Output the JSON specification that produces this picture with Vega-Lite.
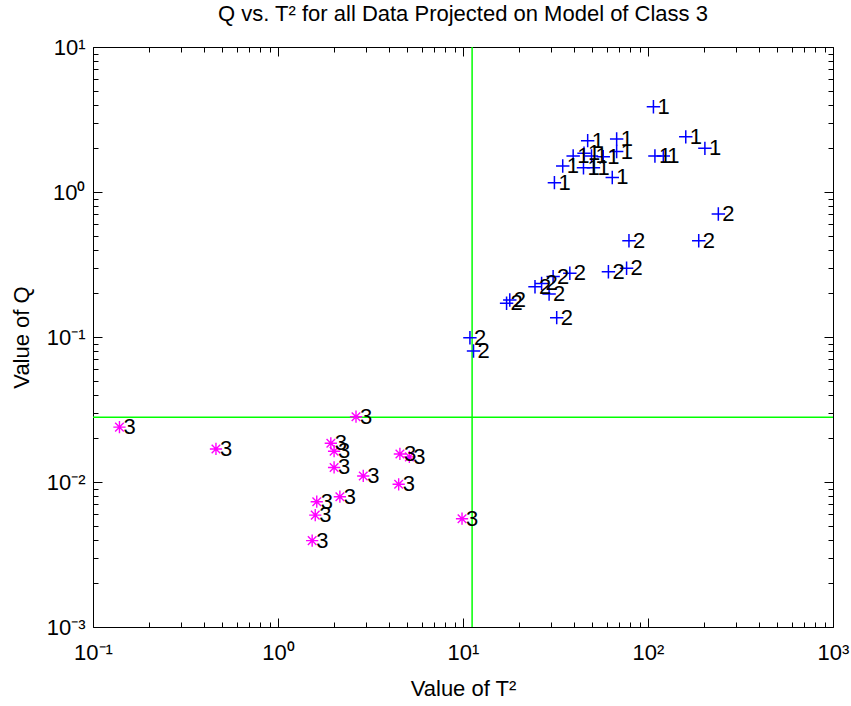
{
  "$schema": "https://vega.github.io/schema/vega-lite/v6.json",
  "width": 740,
  "height": 580,
  "autosize": {"type": "none"},
  "padding": {"left": 93, "top": 47, "right": 18, "bottom": 79},
  "background": "white",
  "title": {"text": "Q vs. T² for all Data Projected on Model of Class 3", "font": "Liberation Sans", "fontSize": 22, "fontWeight": "normal", "color": "black", "offset": 10, "anchor": "middle"},
  "config": {
    "view": {"stroke": "black", "strokeWidth": 1},
    "axis": {"domain": false, "grid": false, "labelFont": "Liberation Sans", "labelFontSize": 22, "labelColor": "black", "tickColor": "black", "tickWidth": 1, "titleFont": "Liberation Sans", "titleFontSize": 22, "titleFontWeight": "normal", "titleColor": "black", "labelFlush": false, "labelOverlap": false}
  },
  "datasets": {
    "pts": [
      {"t2": 107, "q": 3.87, "cls": "1"},
      {"t2": 47.2, "q": 2.26, "cls": "1"},
      {"t2": 67.7, "q": 2.32, "cls": "1"},
      {"t2": 160, "q": 2.40, "cls": "1"},
      {"t2": 203, "q": 2.00, "cls": "1"},
      {"t2": 109, "q": 1.77, "cls": "1"},
      {"t2": 121, "q": 1.77, "cls": "1"},
      {"t2": 39.4, "q": 1.77, "cls": "1"},
      {"t2": 45.1, "q": 1.85, "cls": "1"},
      {"t2": 49.5, "q": 1.77, "cls": "1"},
      {"t2": 57.3, "q": 1.75, "cls": "1"},
      {"t2": 67.7, "q": 1.90, "cls": "1"},
      {"t2": 34.6, "q": 1.51, "cls": "1"},
      {"t2": 44.8, "q": 1.47, "cls": "1"},
      {"t2": 50.7, "q": 1.47, "cls": "1"},
      {"t2": 31.2, "q": 1.16, "cls": "1"},
      {"t2": 64.1, "q": 1.26, "cls": "1"},
      {"t2": 10.9, "q": 0.0988, "cls": "2"},
      {"t2": 11.4, "q": 0.080, "cls": "2"},
      {"t2": 17.9, "q": 0.180, "cls": "2"},
      {"t2": 17.2, "q": 0.171, "cls": "2"},
      {"t2": 24.5, "q": 0.222, "cls": "2"},
      {"t2": 26.6, "q": 0.234, "cls": "2"},
      {"t2": 30.7, "q": 0.261, "cls": "2"},
      {"t2": 29.2, "q": 0.198, "cls": "2"},
      {"t2": 32.1, "q": 0.136, "cls": "2"},
      {"t2": 37.8, "q": 0.275, "cls": "2"},
      {"t2": 61.1, "q": 0.282, "cls": "2"},
      {"t2": 76.6, "q": 0.298, "cls": "2"},
      {"t2": 78.9, "q": 0.461, "cls": "2"},
      {"t2": 188, "q": 0.461, "cls": "2"},
      {"t2": 240, "q": 0.705, "cls": "2"},
      {"t2": 0.139, "q": 0.0239, "cls": "3"},
      {"t2": 0.462, "q": 0.0169, "cls": "3"},
      {"t2": 2.64, "q": 0.0282, "cls": "3"},
      {"t2": 1.93, "q": 0.0185, "cls": "3"},
      {"t2": 2.01, "q": 0.0163, "cls": "3"},
      {"t2": 2.01, "q": 0.0126, "cls": "3"},
      {"t2": 2.89, "q": 0.0110, "cls": "3"},
      {"t2": 4.56, "q": 0.0156, "cls": "3"},
      {"t2": 5.13, "q": 0.0149, "cls": "3"},
      {"t2": 4.49, "q": 0.00964, "cls": "3"},
      {"t2": 2.16, "q": 0.00792, "cls": "3"},
      {"t2": 1.62, "q": 0.00731, "cls": "3"},
      {"t2": 1.59, "q": 0.00591, "cls": "3"},
      {"t2": 1.53, "q": 0.00394, "cls": "3"},
      {"t2": 9.88, "q": 0.00558, "cls": "3"}
    ],
    "vline": [{"t2": 11.2}],
    "hline": [{"q": 0.028}]
  },
  "layer": [
    {
      "data": {"name": "vline"},
      "mark": {"type": "rule", "color": "#00FF00", "strokeWidth": 1.5},
      "encoding": {
        "x": {"field": "t2", "type": "quantitative", "scale": {"type": "log", "domain": [0.1, 1000], "nice": false}, "axis": null}
      }
    },
    {
      "data": {"name": "hline"},
      "mark": {"type": "rule", "color": "#00FF00", "strokeWidth": 1.5},
      "encoding": {
        "y": {"field": "q", "type": "quantitative", "scale": {"type": "log", "domain": [0.001, 10], "nice": false}, "axis": null}
      }
    },
    {
      "data": {"name": "pts"},
      "transform": [{"filter": "datum.cls == '1'"}],
      "mark": {"type": "point", "shape": "M-1,0H1M0,-1V1", "size": 180, "stroke": "#0000FF", "strokeWidth": 1.5, "filled": false, "opacity": 1},
      "encoding": {
        "x": {"field": "t2", "type": "quantitative", "scale": {"type": "log", "domain": [0.1, 1000], "nice": false},
          "axis": {"orient": "bottom", "values": [0.1, 1, 10, 100, 1000], "tickSize": -9, "labelPadding": 24, "labelBaseline": "top",
            "labelExpr": "datum.value < 0.5 ? '10⁻¹' : datum.value < 5 ? '10⁰' : datum.value < 50 ? '10¹' : datum.value < 500 ? '10²' : '10³'",
            "title": "Value of T²", "titlePadding": 15}},
        "y": {"field": "q", "type": "quantitative", "scale": {"type": "log", "domain": [0.001, 10], "nice": false},
          "axis": {"orient": "left", "values": [0.001, 0.01, 0.1, 1, 10], "tickSize": -9, "labelPadding": 17,
            "labelExpr": "datum.value < 0.005 ? '10⁻³' : datum.value < 0.05 ? '10⁻²' : datum.value < 0.5 ? '10⁻¹' : datum.value < 5 ? '10⁰' : '10¹'",
            "title": "Value of Q", "titlePadding": 13}}
      }
    },
    {
      "data": {"name": "pts"},
      "transform": [{"filter": "datum.cls == '2'"}],
      "mark": {"type": "point", "shape": "M-1,0H1M0,-1V1", "size": 180, "stroke": "#0000FF", "strokeWidth": 1.5, "filled": false, "opacity": 1},
      "encoding": {
        "x": {"field": "t2", "type": "quantitative", "scale": {"type": "log", "domain": [0.1, 1000], "nice": false},
          "axis": {"orient": "bottom", "values": [0.2, 0.3, 0.4, 0.5, 0.6, 0.7, 0.8, 0.9, 2, 3, 4, 5, 6, 7, 8, 9, 20, 30, 40, 50, 60, 70, 80, 90, 200, 300, 400, 500, 600, 700, 800, 900], "tickSize": -5, "labels": false, "title": null}},
        "y": {"field": "q", "type": "quantitative", "scale": {"type": "log", "domain": [0.001, 10], "nice": false},
          "axis": {"orient": "left", "values": [0.002, 0.003, 0.004, 0.005, 0.006, 0.007, 0.008, 0.009, 0.02, 0.03, 0.04, 0.05, 0.06, 0.07, 0.08, 0.09, 0.2, 0.3, 0.4, 0.5, 0.6, 0.7, 0.8, 0.9, 2, 3, 4, 5, 6, 7, 8, 9], "tickSize": -5, "labels": false, "title": null}}
      }
    },
    {
      "data": {"name": "pts"},
      "transform": [{"filter": "datum.cls == '3'"}],
      "mark": {"type": "point", "shape": "M-1,0H1M0,-1V1M-0.7,-0.7L0.7,0.7M-0.7,0.7L0.7,-0.7", "size": 150, "stroke": "#FF00FF", "strokeWidth": 1.4, "filled": false, "opacity": 1},
      "encoding": {
        "x": {"field": "t2", "type": "quantitative", "scale": {"type": "log", "domain": [0.1, 1000], "nice": false},
          "axis": {"orient": "top", "values": [0.1, 1, 10, 100, 1000], "tickSize": -9, "labels": false, "title": null}},
        "y": {"field": "q", "type": "quantitative", "scale": {"type": "log", "domain": [0.001, 10], "nice": false},
          "axis": {"orient": "right", "values": [0.001, 0.01, 0.1, 1, 10], "tickSize": -9, "labels": false, "title": null}}
      }
    },
    {
      "data": {"name": "pts"},
      "mark": {"type": "text", "align": "left", "baseline": "middle", "dx": 4, "font": "Liberation Sans", "fontSize": 22, "color": "black"},
      "encoding": {
        "x": {"field": "t2", "type": "quantitative", "scale": {"type": "log", "domain": [0.1, 1000], "nice": false},
          "axis": {"orient": "top", "values": [0.2, 0.3, 0.4, 0.5, 0.6, 0.7, 0.8, 0.9, 2, 3, 4, 5, 6, 7, 8, 9, 20, 30, 40, 50, 60, 70, 80, 90, 200, 300, 400, 500, 600, 700, 800, 900], "tickSize": -5, "labels": false, "title": null}},
        "y": {"field": "q", "type": "quantitative", "scale": {"type": "log", "domain": [0.001, 10], "nice": false},
          "axis": {"orient": "right", "values": [0.002, 0.003, 0.004, 0.005, 0.006, 0.007, 0.008, 0.009, 0.02, 0.03, 0.04, 0.05, 0.06, 0.07, 0.08, 0.09, 0.2, 0.3, 0.4, 0.5, 0.6, 0.7, 0.8, 0.9, 2, 3, 4, 5, 6, 7, 8, 9], "tickSize": -5, "labels": false, "title": null}},
        "text": {"field": "cls", "type": "nominal"}
      }
    }
  ],
  "resolve": {"axis": {"x": "independent", "y": "independent"}}
}
